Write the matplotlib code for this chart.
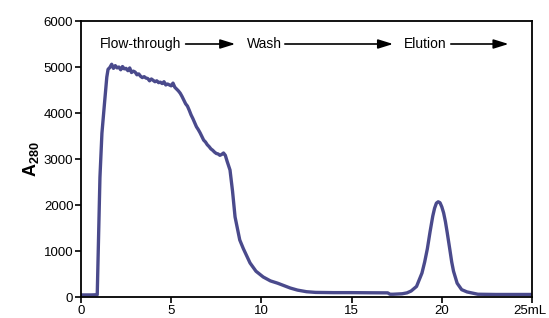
import matplotlib
matplotlib.use("Agg")
import matplotlib.pyplot as plt
import matplotlib.transforms as mtrans

# Chromatogram trace (mL, A280)
volume_ml = [0.0, 0.3, 0.6, 0.9, 0.95, 1.05, 1.16, 1.3, 1.43, 1.5, 1.6, 1.7, 1.8, 1.9, 2.0,
             2.1, 2.2, 2.3, 2.4, 2.5, 2.6, 2.7, 2.8, 2.9, 3.0, 3.1, 3.2, 3.3, 3.4, 3.5,
             3.6, 3.7, 3.8, 3.9, 4.0, 4.1, 4.2, 4.3, 4.4, 4.5, 4.6, 4.7, 4.8, 4.9, 5.0,
             5.1, 5.2, 5.3, 5.4, 5.5, 5.6, 5.7, 5.8, 5.9, 6.0, 6.1, 6.2, 6.3, 6.4, 6.5,
             6.6, 6.7, 6.8, 6.9, 7.0, 7.1, 7.2, 7.3, 7.4, 7.5, 7.6, 7.7, 7.8, 7.9, 8.0,
             8.1, 8.26, 8.4, 8.54, 8.8, 9.0, 9.37, 9.7, 10.1, 10.5, 10.9, 11.3, 11.6, 12.0,
             12.5, 13.0, 14.0, 15.0, 16.0, 17.0, 17.13, 17.3, 17.8, 18.07, 18.3, 18.6,
             18.9, 19.05, 19.2, 19.35, 19.5, 19.6, 19.7, 19.8, 19.9, 20.0, 20.1, 20.2,
             20.3, 20.45, 20.55, 20.65, 20.85, 21.1, 21.4,
             21.7, 22.0, 23.0, 24.0, 25.0]
a280 = [45, 45, 45, 50, 900, 2600, 3560, 4200, 4780, 4950, 4990, 5060, 4970, 5030, 4980,
        5000, 4940, 5010, 4960, 4970, 4920, 4980, 4880, 4910, 4890, 4830, 4850, 4800, 4770, 4790,
        4760, 4750, 4700, 4740, 4710, 4680, 4700, 4660, 4670, 4640, 4680, 4610, 4630, 4610, 4590,
        4650, 4560, 4520, 4480, 4430, 4360, 4280, 4200, 4150, 4060, 3960, 3880, 3790, 3700, 3640,
        3570, 3490, 3410, 3370, 3310, 3270, 3220, 3190, 3150, 3120, 3110, 3080, 3100, 3130, 3080,
        2950, 2760, 2300, 1740, 1240, 1050, 740, 560, 435, 350, 300, 240, 195, 150,
        115, 100, 95, 95, 92, 90, 60, 60, 70, 90, 130, 230,
        520, 760, 1050, 1420, 1760, 1930, 2040, 2070, 2050, 1960, 1830, 1640,
        1400, 1020, 760, 560, 300, 160, 110,
        85, 60, 55, 55, 55]

x_ticks = [0, 5, 10, 15, 20, 25]
x_tick_labels = ["0", "5", "10", "15", "20", "25mL"]
y_ticks = [0, 1000, 2000, 3000, 4000, 5000, 6000]

phase_labels = ["Flow-through", "Wash", "Elution"]
phase_text_x = [1.05, 9.2, 17.9]
phase_arrow_start = [5.8, 11.3, 20.5]
phase_arrow_end = [8.55, 17.3, 23.7]
phase_y = 5500

plt.rcParams["font.family"] = ["Liberation Sans", "DejaVu Sans"]
plt.rcParams["mathtext.fontset"] = "custom"
plt.rcParams["mathtext.bf"] = "Liberation Sans:bold"
plt.rcParams["mathtext.rm"] = "Liberation Sans"

fig = plt.figure(figsize=(5.49, 3.18), dpi=100)
ax = fig.add_axes([81 / 549, 1 - 297 / 318, (532 - 81) / 549, (297 - 21) / 318])

ax.plot(volume_ml, a280, color="#4a4a8c", lw=2.4, solid_joinstyle="round")

ax.set_xlim(0, 25)
ax.set_ylim(0, 6000)
ax.set_xticks(x_ticks)
ax.set_xticklabels(x_tick_labels)
ax.set_yticks(y_ticks)
ax.tick_params(axis="both", direction="out", length=4, width=1.2, labelsize=9.5, pad=1.5)
for s in ax.spines.values():
    s.set_linewidth(1.3)

# nudge last x label so it fits in the frame like the reference
last = ax.get_xticklabels()[-1]
last.set_transform(last.get_transform() + mtrans.ScaledTranslation(-2 / 100, 0, fig.dpi_scale_trans))

ax.set_ylabel(r"$\mathbf{A}_{\mathbf{280}}$", fontsize=13, labelpad=2)

for lab, tx, a0, a1 in zip(phase_labels, phase_text_x, phase_arrow_start, phase_arrow_end):
    ax.text(tx, phase_y, lab, fontsize=10, va="center", ha="left")
    ax.annotate("", xy=(a1, phase_y), xytext=(a0, phase_y),
                arrowprops=dict(arrowstyle="-|>,head_length=0.9,head_width=0.28",
                                lw=1.2, color="black", shrinkA=0, shrinkB=0))

fig.savefig("out.png", dpi=100)
